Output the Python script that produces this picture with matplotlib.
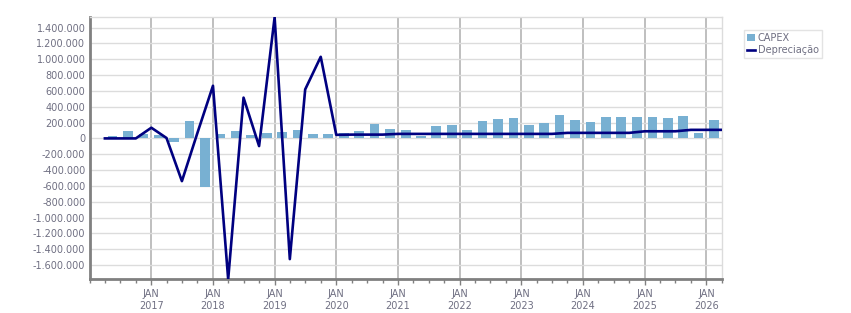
import numpy as np
import pandas as pd
import matplotlib
matplotlib.use("Agg")
import matplotlib.pyplot as plt
import matplotlib.dates as mdates
from matplotlib.ticker import FuncFormatter, MultipleLocator

# ------------------------
# Data (quarterly, Q1 2016 .. Q1 2026)
# ------------------------
quarters = pd.period_range("2016Q1", "2026Q1", freq="Q")

capex = [
    8000, 28000, 93000, 59000,            # 2016
    42000, -43000, 223000, -610000,       # 2017
    52000, 93000, 42000, 67000,           # 2018
    80000, 105000, 54000, 54000,          # 2019
    67000, 92000, 180000, 118000,         # 2020
    105000, 29000, 156000, 168000,        # 2021
    105000, 219000, 244000, 257000,       # 2022
    168000, 193000, 295000, 232000,       # 2023
    207000, 270000, 270000, 270000,       # 2024
    270000, 257000, 282000, 67000,        # 2025
    232000,                               # 2026
]

depreciacao = [
    0, 0, 0, 135000,                      # 2016
    5000, -540000, 70000, 665000,         # 2017
    -1780000, 515000, -97000, 1530000,    # 2018
    -1525000, 619000, 1031000, 45000,     # 2019
    48000, 48000, 48000, 57000,           # 2020
    57000, 57000, 57000, 57000,           # 2021
    57000, 57000, 57000, 57000,           # 2022
    57000, 57000, 70000, 70000,           # 2023
    70000, 70000, 70000, 90000,           # 2024
    90000, 90000, 108000, 108000,         # 2025
    108000,                               # 2026
]

years = list(range(2017, 2027))

BAR_COLOR = "#78b0d2"
LINE_COLOR = "#000080"
TEXT_COLOR = "#6f6f82"

# ------------------------
# Plot
# ------------------------
starts = quarters.start_time
bar_x = starts + pd.Timedelta(days=45)
line_x = (quarters + 1).start_time

fig = plt.figure(figsize=(8.51, 3.13), dpi=100)
ax = fig.add_axes([0.1052, 0.1077, 0.7428, 0.8370])

bars = ax.bar(bar_x, capex, width=58, color=BAR_COLOR, label="CAPEX",
              zorder=2)
line, = ax.plot(line_x, depreciacao, color=LINE_COLOR, lw=1.9,
                label="Depreciação", zorder=3)

ax.set_xlim(pd.Timestamp("2016-01-01"), pd.Timestamp("2026-04-01"))
ax.set_ylim(-1780000, 1530000)

# y axis
ax.yaxis.set_major_locator(MultipleLocator(200000))
ax.yaxis.set_major_formatter(
    FuncFormatter(lambda v, p: f"{int(round(v)):,}".replace(",", ".")))

# x axis
ax.set_xticks([pd.Timestamp(f"{y}-01-01") for y in years])
ax.set_xticklabels([f"JAN\n{y}" for y in years])
ax.xaxis.set_minor_locator(mdates.MonthLocator(bymonth=[1, 4, 7, 10]))

ax.tick_params(axis="both", colors="#808080", labelcolor=TEXT_COLOR,
               labelsize=7)
ax.tick_params(axis="x", which="major", length=4, width=1, pad=3)
ax.tick_params(axis="x", which="minor", length=3, width=1, colors="#808080")
ax.tick_params(axis="y", length=0, pad=3)

# grid
ax.grid(axis="y", color="#dcdcdc", lw=1, zorder=0)
ax.grid(axis="x", which="major", color="#b4b4b4", lw=1.2, zorder=0)
ax.set_axisbelow(True)

for side in ["top", "right"]:
    ax.spines[side].set_color("#dcdcdc")
    ax.spines[side].set_linewidth(1)
for side in ["left", "bottom"]:
    ax.spines[side].set_color("#808080")
    ax.spines[side].set_linewidth(2)

leg = fig.legend([bars, line], ["CAPEX", "Depreciação"],
                 loc="upper left", bbox_to_anchor=(0.874, 0.905),
                 fontsize=7, frameon=True, fancybox=False,
                 handlelength=0.8, handleheight=0.8, handletextpad=0.3,
                 borderpad=0.35, labelspacing=0.2, borderaxespad=0)
leg.get_frame().set_edgecolor("#dcdcdc")
leg.get_frame().set_linewidth(1)
for t in leg.get_texts():
    t.set_color(TEXT_COLOR)

fig.savefig("out.png", dpi=100)
